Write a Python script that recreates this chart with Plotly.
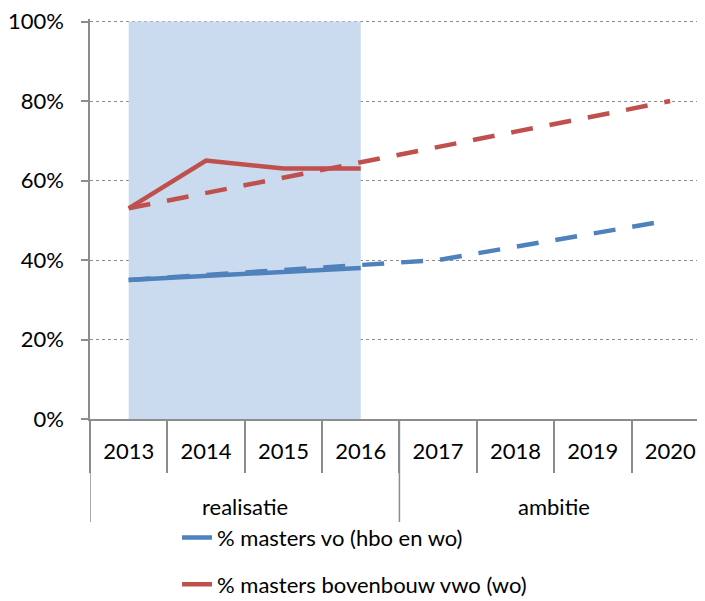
import plotly.graph_objects as go

# ---- data ----
years = ["2013", "2014", "2015", "2016", "2017", "2018", "2019", "2020"]
groups = ["realisatie", "ambitie"]
group_sizes = [4, 4]
band_top = [100, 100, 100, 100]
blue_real = [35, 36, 37, 38]
blue_target = [35, 36.25, 37.5, 38.75, 40, 43.33, 46.67, 50]
red_real = [53, 65, 63, 63]
red_target = [53, 56.9, 60.7, 64.6, 68.4, 72.3, 76.1, 80]
name_blue = "% masters vo (hbo en wo)"
name_red = "% masters bovenbouw vwo (wo)"
y_ticks = [0, 20, 40, 60, 80, 100]
y_ticktext = ["0%", "20%", "40%", "60%", "80%", "100%"]

BLUE = "#4F81BD"
RED = "#C0504D"
BAND = "#CADBF0"
GRAY = "#8C8C8C"
FONT = "Lato"

idx = list(range(len(years)))
n_real = len(blue_real)

fig = go.Figure()

fig.add_trace(go.Scatter(
    x=idx[:n_real], y=band_top, mode="none", fill="tozeroy",
    fillcolor=BAND, showlegend=False, hoverinfo="skip"))

fig.add_trace(go.Scatter(
    x=idx[:n_real], y=blue_real, mode="lines", name=name_blue,
    line=dict(color=BLUE, width=4.5), legendgroup="b"))
fig.add_trace(go.Scatter(
    x=idx, y=blue_target, mode="lines", showlegend=False,
    line=dict(color=BLUE, width=4.5, dash="22px,17px")))
fig.add_trace(go.Scatter(
    x=idx[:n_real], y=red_real, mode="lines", name=name_red,
    line=dict(color=RED, width=4.5), legendgroup="r"))
fig.add_trace(go.Scatter(
    x=idx, y=red_target, mode="lines", showlegend=False,
    line=dict(color=RED, width=4.5, dash="22px,17px")))

# group labels and group dividers (multi-level category axis)
annotations = []
shapes = []
start = 0
for g, n in zip(groups, group_sizes):
    annotations.append(dict(
        x=start + (n - 1) / 2, y=-0.2175, xref="x", yref="paper",
        text=g, showarrow=False, yanchor="middle",
        font=dict(family=FONT, size=22, color="black")))
    shapes.append(dict(
        type="line", xref="x", yref="paper",
        x0=start - 0.5, x1=start - 0.5, y0=0, y1=-0.2575,
        line=dict(color=GRAY, width=1.5)))
    start += n

fig.update_layout(
    width=697, height=593,
    margin=dict(l=82, r=0, t=11, b=182, autoexpand=False),
    paper_bgcolor="white", plot_bgcolor="white",
    font=dict(family=FONT, size=22, color="black"),
    annotations=annotations, shapes=shapes,
    legend=dict(
        x=0.1415, y=-0.2445, xanchor="left", yanchor="top",
        orientation="v", tracegroupgap=15, bgcolor="rgba(0,0,0,0)",
        font=dict(family=FONT, size=22, color="black")),
    xaxis=dict(
        range=[-0.5, 7.45], automargin=False,
        tickvals=idx, ticktext=years, ticks="", ticklabelstandoff=12,
        minor=dict(tickvals=[i - 0.5 for i in idx] + [len(idx) - 0.5],
                   ticks="outside", ticklen=52, tickcolor=GRAY,
                   tickwidth=1.5, showgrid=False),
        showline=True, linecolor=GRAY, linewidth=1.5,
        showgrid=False, zeroline=False,
        tickfont=dict(family=FONT, size=22, color="black")),
    yaxis=dict(
        range=[0, 100.63], automargin=False,
        tickvals=y_ticks, ticktext=y_ticktext, ticklabeloverflow="allow",
        showline=True, linecolor=GRAY, linewidth=1.5,
        ticks="outside", ticklen=7, tickcolor=GRAY, tickwidth=1.5,
        showgrid=True, gridcolor=GRAY, griddash="dot", gridwidth=1.2,
        zeroline=False, ticklabelstandoff=13,
        tickfont=dict(family=FONT, size=22, color="black")),
)

fig.write_html("out.html")
